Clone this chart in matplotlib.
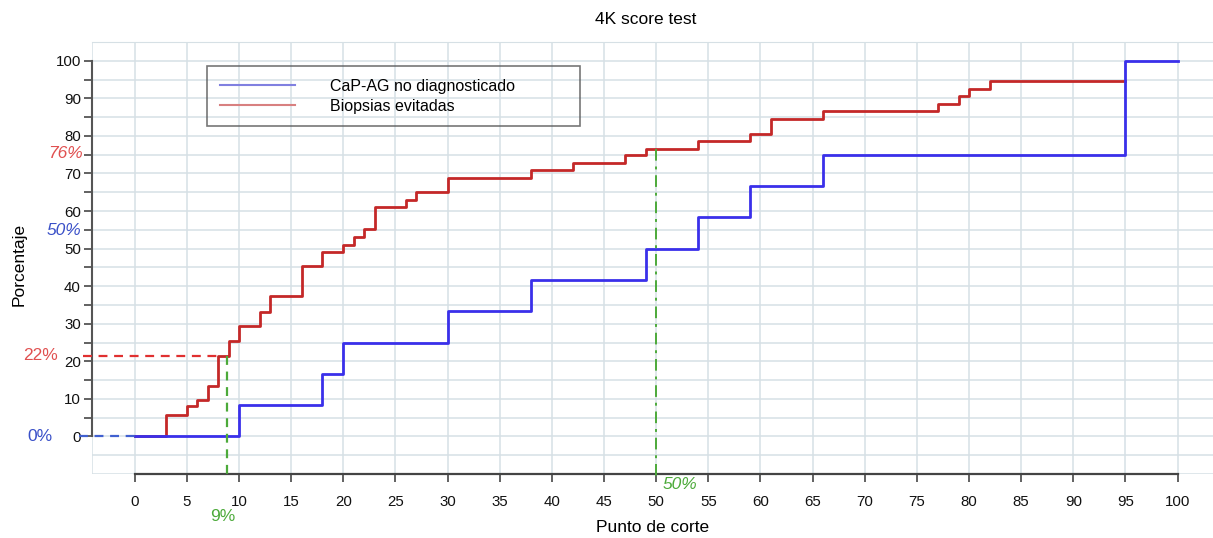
import matplotlib
matplotlib.use('Agg')
import matplotlib.pyplot as plt
from matplotlib.lines import Line2D

plt.rcParams['font.family'] = ['Liberation Sans', 'DejaVu Sans']

# ---- data ----
title = '4K score test'
series_labels = ['CaP-AG no diagnosticado', 'Biopsias evitadas']
cut_blue = [0, 10, 18, 20, 30, 38, 49, 54, 59, 66, 95, 100]
pct_blue = [0, 8.33, 16.67, 25, 33.33, 41.67, 50, 58.33, 66.67, 75, 100, 100]
cut_red = [0, 3, 5, 6, 7, 8, 9, 10, 12, 13, 16, 18, 20, 21, 22, 23, 26, 27, 30,
           38, 42, 47, 49, 54, 59, 61, 66, 77, 79, 80, 82, 95]
pct_red = [0, 5.7, 8.0, 9.6, 13.3, 21.5, 25.4, 29.4, 33.2, 37.3, 45.4, 49.2, 51.0,
           53.1, 55.2, 61.0, 63.0, 65.1, 68.8, 70.8, 72.8, 74.8, 76.5, 78.6, 80.6,
           84.6, 86.6, 88.6, 90.5, 92.5, 94.5, 94.5]
x_ticks = list(range(0, 101, 5))
y_ticks = list(range(0, 101, 10))
# annotation values
thr_low_cut, thr_low_pct = 8.8, 21.5
thr_mid_cut, thr_mid_pct = 50, 76.5
ann_texts = ['22%', '0%', '50%', '76%', '9%', '50%']

RED = '#c42828'
BLUE = '#3a30ea'
GREEN = '#4caa3a'
RED_T = '#e05050'
BLUE_T = '#3a50c8'
GRID = '#d6e0e5'

fig = plt.figure(figsize=(12.13, 5.38), dpi=100)
ax = fig.add_axes([92 / 1213, 64 / 538, 1 - 92 / 1213, 432 / 538])
ax.set_xlim(-4.1, 103.4)
ax.set_ylim(-10, 105)

# grid
for gx in [-4.1] + list(range(0, 106, 5)):
    ax.axvline(gx, color=GRID, lw=1.1, zorder=0)
for gy in range(-10, 106, 5):
    ax.axhline(gy, color=GRID, lw=1.1, zorder=0)

# series
ax.step(cut_red, pct_red, where='post', color=RED, lw=2, zorder=3)
ax.step(cut_blue, pct_blue, where='post', color=BLUE, lw=2, zorder=4)

# guide lines
ax.plot([-5.0, thr_low_cut - 0.8], [thr_low_pct, thr_low_pct], ls=(0, (4, 3)),
        color='#e03030', lw=1.6, clip_on=False, zorder=5)
ax.plot([-5.3, 0], [0, 0], ls=(0, (4, 3)), color='#4060d0', lw=1.6,
        clip_on=False, zorder=5)
ax.plot([thr_low_cut, thr_low_cut], [thr_low_pct, -11.2], ls=(0, (4, 3)),
        color=GREEN, lw=1.6, clip_on=False, zorder=5)
ax.plot([thr_mid_cut, thr_mid_cut], [thr_mid_pct, -11.0], ls=(0, (6, 3, 1.5, 3)),
        color=GREEN, lw=1.4, clip_on=False, zorder=5)

# annotation texts
ax.text(-7.4, thr_low_pct, ann_texts[0], color=RED_T, fontsize=12.5,
        ha='right', va='center', clip_on=False)
ax.text(-7.9, 0, ann_texts[1], color=BLUE_T, fontsize=12.5,
        ha='right', va='center', clip_on=False)
ax.text(-5.1, 54.7, ann_texts[2], color=BLUE_T, fontsize=12.5, style='italic',
        ha='right', va='center', clip_on=False)
ax.text(-5.0, 75.3, ann_texts[3], color=RED_T, fontsize=12.5, style='italic',
        ha='right', va='center', clip_on=False)
ax.text(thr_low_cut - 0.4, -21.2, ann_texts[4], color=GREEN, fontsize=12.5,
        ha='center', va='center', clip_on=False)
ax.text(thr_mid_cut + 0.6, -12.7, ann_texts[5], color=GREEN, fontsize=12.5,
        style='italic', ha='left', va='center', clip_on=False)

# spines
ax.spines['right'].set_visible(False)
ax.spines['top'].set_color(GRID)
ax.spines['left'].set_bounds(0, 100)
ax.spines['left'].set_color('#555555')
ax.spines['left'].set_linewidth(1.5)
ax.spines['bottom'].set_bounds(0, 100)
ax.spines['bottom'].set_color('#444444')
ax.spines['bottom'].set_linewidth(1.6)

ax.set_xticks(x_ticks)
ax.set_xticklabels([str(v) for v in x_ticks])
ax.set_yticks(y_ticks)
ax.set_yticks(list(range(5, 100, 10)), minor=True)
ax.tick_params(axis='x', length=6, width=1.3, color='#555555', pad=9,
               labelsize=10.8, labelcolor='#111111')
ax.tick_params(axis='y', which='both', length=6, width=1.3, color='#555555',
               pad=2, labelsize=10.8, labelcolor='#111111')

ax.set_xlabel('Punto de corte', fontsize=12.5, labelpad=8)
ax.set_ylabel('Porcentaje', fontsize=12.5)
ax.yaxis.set_label_coords(-0.058, 0.484)
fig.text(646 / 1213, 1 - 20 / 538, title, fontsize=12.5, ha='center', va='center')

handles = [Line2D([], [], color='#8080e0', lw=1.5),
           Line2D([], [], color='#d88080', lw=1.5)]
leg = ax.legend(handles, series_labels, loc='upper left',
                bbox_to_anchor=(0.1026, 0.5, 0.3327, 0.4444), mode='expand',
                borderaxespad=0, fontsize=11.5, handlelength=4.7,
                handletextpad=2.2, borderpad=0.8, labelspacing=0.3,
                fancybox=False, edgecolor='#555555')
leg.get_frame().set_facecolor('none')
leg.get_frame().set_linewidth(1.2)
leg.set_zorder(6)

fig.savefig('out.png', dpi=100)
